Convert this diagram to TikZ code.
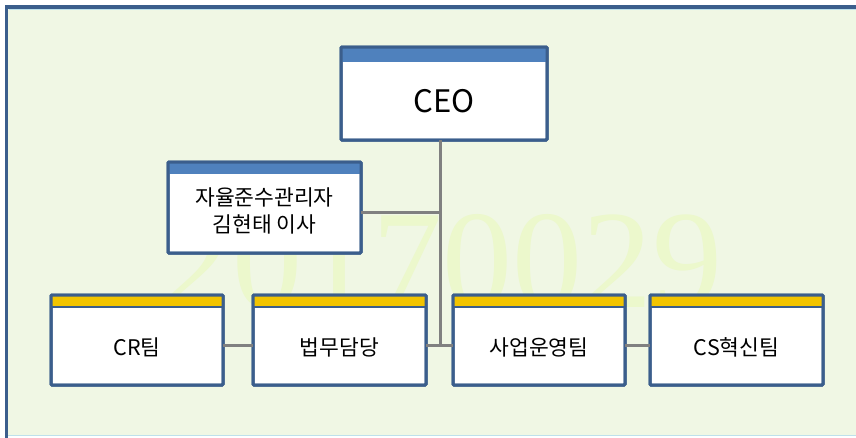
\documentclass[tikz,border=0pt]{standalone}
\usepackage{fontspec}
\setmainfont{Noto Sans CJK KR}
\newfontfamily\wmfont{Liberation Serif}
\definecolor{bgreen}{RGB}{240,247,228}
\definecolor{dblue}{RGB}{59,94,140}
\definecolor{barblue}{RGB}{79,129,189}
\definecolor{baryellow}{RGB}{242,196,0}
\definecolor{linegray}{RGB}{128,128,128}
\definecolor{wmcol}{RGB}{236,248,204}
\definecolor{framelight}{RGB}{190,225,235}
\begin{document}
\begin{tikzpicture}[x=1pt,y=-1pt,
  box/.style={draw=dblue,line width=3pt,fill=white,rounded corners=1pt,outer sep=0pt,inner sep=0pt},
  lbl/.style={font=\fontsize{21.5}{27}\selectfont,align=center,inner sep=0pt},
  conn/.style={draw=linegray,line width=3pt}]
\useasboundingbox (0,0) rectangle (856,437);
% frame
\fill[white] (0,0) rectangle (856,437);
\fill[bgreen] (6.5,7) rectangle (870,435);
\draw[framelight,line width=1.2pt] (6.5,435.5) -- (860,435.5);
\draw[framelight,line width=1pt] (9,9.5) -- (860,9.5);
\draw[dblue,line width=3.5pt] (6.5,440) -- (6.5,7) -- (860,7);
% watermark
\node[font=\wmfont\fontsize{140}{140}\selectfont,text=wmcol,inner sep=0pt] (wm) at (442,262) {20170029};
% boxes
\node[box,minimum width=206,minimum height=93] (ceo) at (444,93.5) {};
\node[box,minimum width=193,minimum height=91] (cp) at (264.5,207.5) {};
\node[box,minimum width=172,minimum height=90] (cr) at (137,340) {};
\node[box,minimum width=173,minimum height=90] (lg) at (339.5,340) {};
\node[box,minimum width=172,minimum height=90] (bo) at (539,340) {};
\node[box,minimum width=173,minimum height=90] (cs) at (736.5,340) {};
% bars
\fill[barblue] (ceo.north west) rectangle ([yshift=-15]ceo.north east);
\fill[barblue] (cp.north west) rectangle ([yshift=-12]cp.north east);
\foreach \n in {cr,lg,bo,cs}{
  \fill[baryellow] (\n.north west) rectangle ([yshift=-12]\n.north east);
  \draw[dblue,line width=1.2pt] ([yshift=-12]\n.north west) -- ([yshift=-12]\n.north east);
}
\foreach \n in {ceo,cp,cr,lg,bo,cs}{
  \draw[dblue,line width=3pt,rounded corners=1pt] (\n.north west) rectangle (\n.south east);
}
% labels
\node[inner sep=0pt,font=\fontsize{31}{36}\selectfont] (ceot) at (444,101) {CEO};
\node[lbl] (cpt) at (264.5,211) {자율준수관리자\\김현태 이사};
\node[lbl] (crt) at (137,347) {CR팀};
\node[lbl] (lgt) at (339.5,347) {법무담당};
\node[lbl] (bot) at (539,347) {사업운영팀};
\node[lbl] (cst) at (736.5,347) {CS혁신팀};
% connectors
\coordinate (tj) at (440,212);
\coordinate (bj) at (440,345);
\draw[conn] (ceo.south -| tj) -- (bj);
\draw[conn] (cp.east |- tj) -- (tj);
\draw[conn] (lg.east |- bj) -- (bo.west |- bj);
\draw[conn] (cr.east |- bj) -- (lg.west |- bj);
\draw[conn] (bo.east |- bj) -- (cs.west |- bj);
\end{tikzpicture}
\end{document}
